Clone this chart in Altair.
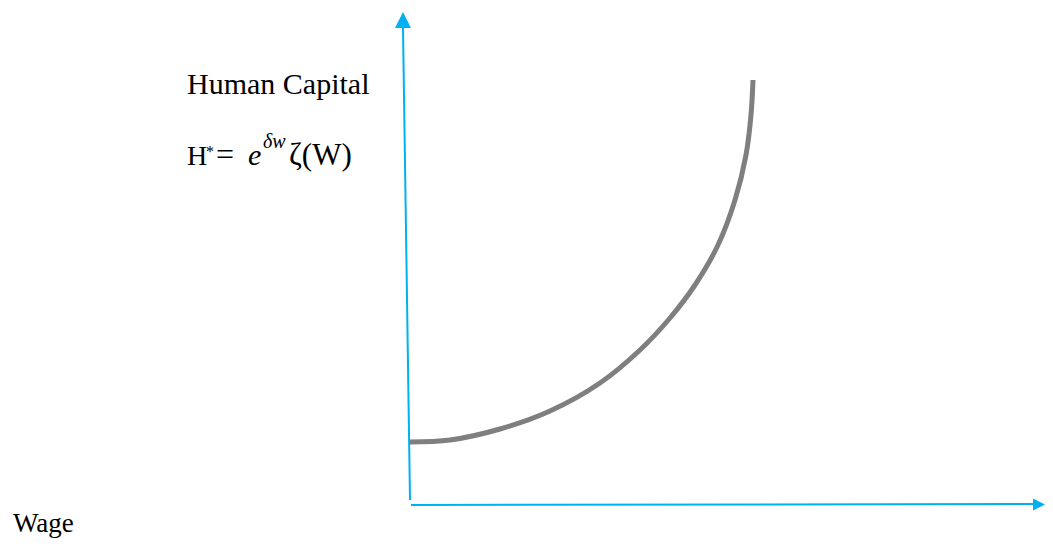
import altair as alt
import pandas as pd

# Curve (pixel-like coordinates)
curve_x = [410, 450, 500, 550, 600, 640, 670, 695, 718, 735, 746, 751, 753]
curve_y = [442, 440, 429, 411, 383, 350, 318, 285, 245, 200, 155, 115, 80]

# Axis lines
v_axis_x = [410, 403]
v_axis_y = [500, 28]
h_axis_x = [411, 1036]
h_axis_y = [505, 504]

# Labels
label_text = ["Human Capital", "Wage"]
label_x = [187, 13]
label_y = [94, 532]
label_size = [30, 27]

BLUE = "#00B0F0"
GRAY = "#7F7F7F"
FONT = "Liberation Serif"

# page coordinates: plot area spans x 8..1045, y 8..538
xs = alt.Scale(domain=[8, 1045], zero=False, nice=False)
ys = alt.Scale(domain=[538, 8], zero=False, nice=False)

def X(f="x"):
    return alt.X(f"{f}:Q", scale=xs, axis=None)

def Y(f="y"):
    return alt.Y(f"{f}:Q", scale=ys, axis=None)

curve_df = pd.DataFrame({"x": curve_x, "y": curve_y, "i": list(range(len(curve_x)))})
curve = alt.Chart(curve_df).mark_line(
    color=GRAY, strokeWidth=5, interpolate="catmull-rom", strokeCap="butt"
).encode(x=X(), y=Y(), order="i:Q")

vax = alt.Chart(pd.DataFrame({"x": v_axis_x, "y": v_axis_y, "i": [0, 1]})).mark_line(
    color=BLUE, strokeWidth=2
).encode(x=X(), y=Y(), order="i:Q")
hax = alt.Chart(pd.DataFrame({"x": h_axis_x, "y": h_axis_y, "i": [0, 1]})).mark_line(
    color=BLUE, strokeWidth=2
).encode(x=X(), y=Y(), order="i:Q")

up_arrow = alt.Chart(pd.DataFrame({"x": [403], "y": [20]})).mark_point(
    shape="M0,-1L1,1L-1,1Z", size=256, filled=True, color=BLUE, opacity=1, strokeWidth=0
).encode(x=X(), y=Y())
right_arrow = alt.Chart(pd.DataFrame({"x": [1039], "y": [504.5]})).mark_point(
    shape="M1,0L-1,-1L-1,1Z", size=144, filled=True, color=BLUE, opacity=1, strokeWidth=0
).encode(x=X(), y=Y())

labels = alt.Chart(pd.DataFrame({"t": label_text, "x": label_x, "y": label_y, "s": label_size})).mark_text(
    font=FONT, align="left", baseline="alphabetic", color="#000000"
).encode(x=X(), y=Y(), text="t:N", size=alt.Size("s:Q", scale=None, legend=None))

# Formula pieces: H* = e^{δw} ζ(W)
f_text = ["H", "*", "=", "e", "δw", "ζ(W)"]
f_x = [187, 206, 216, 248, 263, 289]
f_y = [165, 157, 165, 165, 148, 165]
f_size = [28, 16, 32, 30, 20, 31]
f_style = ["normal", "normal", "normal", "italic", "italic", "normal"]

formula_layers = []
for t, x, y, s, st in zip(f_text, f_x, f_y, f_size, f_style):
    formula_layers.append(
        alt.Chart(pd.DataFrame({"t": [t], "x": [x], "y": [y]})).mark_text(
            font=FONT, fontSize=s, fontStyle=st, align="left", baseline="alphabetic", color="#000000"
        ).encode(x=X(), y=Y(), text="t:N")
    )

chart = alt.layer(vax, hax, up_arrow, right_arrow, curve, labels, *formula_layers).properties(
    width=1037, height=530, autosize=alt.AutoSizeParams(type="none"), padding=0
).configure_view(stroke=None)

chart.save("out.html", embed_options={"renderer": "svg", "actions": False})
